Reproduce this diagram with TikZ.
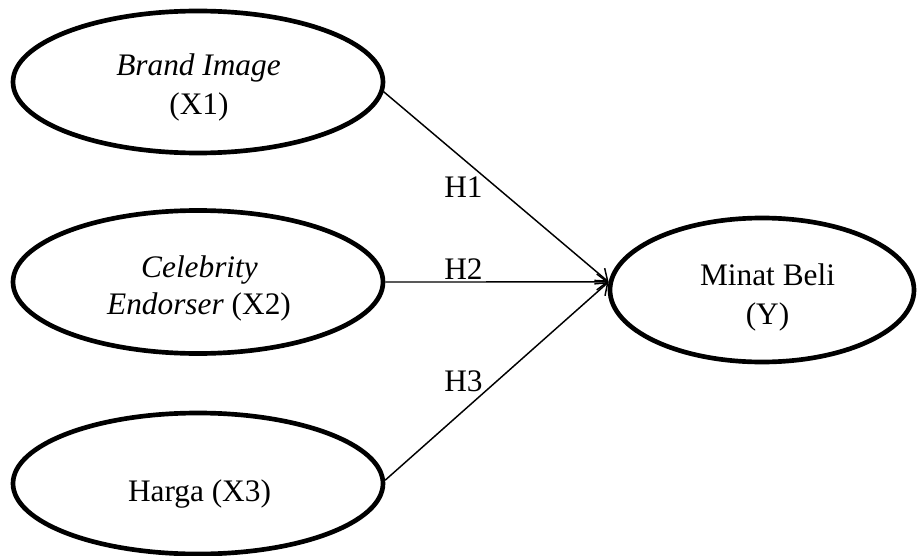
\documentclass[tikz,border=0pt]{standalone}
\usepackage{fontspec}
\setmainfont{Liberation Serif}
\usetikzlibrary{shapes.geometric,arrows.meta}
\begin{document}
\begin{tikzpicture}[x=0.75pt,y=-0.75pt,
  oval/.style={draw=black,line width=3.5pt,ellipse,inner sep=0pt,minimum width=277.5pt},
  lbl/.style={anchor=base,inner sep=0pt,font=\fontsize{23.5}{28}\selectfont},
  conn/.style={draw=black,line width=1.1pt,-{Straight Barb[length=8pt,width=12pt,line width=1.1pt]}}]
\path[use as bounding box] (0,0) rectangle (917,556);
\node[oval,minimum height=106.5pt] (x1) at (198,82) {};
\node[oval,minimum height=107.25pt] (x2) at (198,282) {};
\node[oval,minimum height=105.75pt] (x3) at (198,483.5) {};
\node[oval,minimum width=228pt,minimum height=108pt] (y) at (762,290) {};
\node[lbl] (t1a) at (198.5,76) {\itshape Brand Image};
\node[lbl] (t1b) at (199,115) {(X1)};
\node[lbl] (t2a) at (199.5,277) {\itshape Celebrity};
\node[lbl] (t2b) at (199,314) {\textit{Endorser} (X2)};
\node[lbl] (t3) at (199.5,501) {Harga (X3)};
\node[lbl] (tya) at (767.5,285) {Minat Beli};
\node[lbl] (tyb) at (767.5,324) {(Y)};
\node[lbl] (h1) at (463.5,198) {H1};
\node[lbl] (h2) at (463.5,279) {H2};
\node[lbl] (h3) at (463.5,391) {H3};
\draw[conn] (x1.-3.4) -- (y.177.3);
\draw[conn] (x2.east) -- (y.177.3);
\draw[conn] (x3.1) -- (y.177.3);
\end{tikzpicture}
\end{document}
